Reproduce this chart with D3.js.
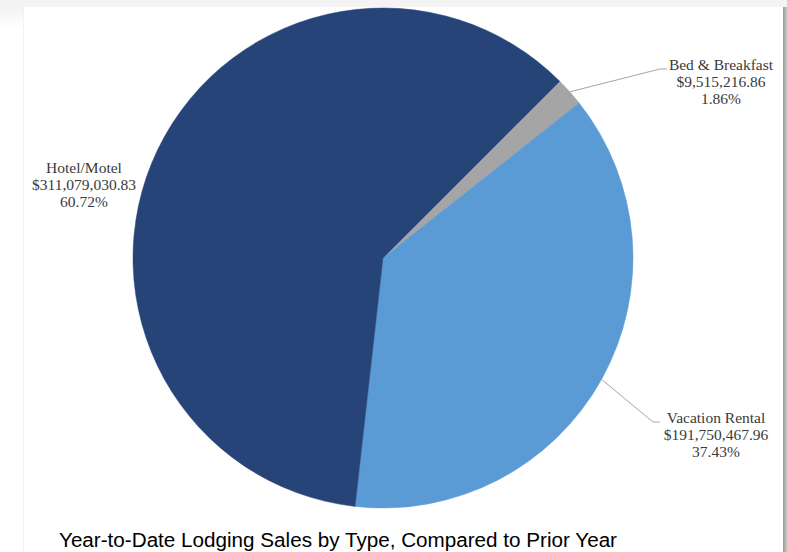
<!DOCTYPE html>
<html>
<head>
<meta charset="utf-8">
<script src="https://cdn.jsdelivr.net/npm/d3@7/dist/d3.min.js"></script>
<style>
  html, body { margin: 0; padding: 0; background: #ffffff; }
  svg { display: block; }
</style>
</head>
<body>
<svg id="chart" width="787" height="552"></svg>
<script>
// Lodging sales by type (year to date)
const categories = ["Bed & Breakfast", "Vacation Rental", "Hotel/Motel"];
const sales = [9515216.86, 191750467.96, 311079030.83];
const percents = ["1.86%", "37.43%", "60.72%"];
const colors = ["#A5A5A5", "#5B9BD5", "#264478"];
const title = "Year-to-Date Lodging Sales by Type, Compared to Prior Year";

const data = categories.map((c, i) => ({ name: c, value: sales[i], pct: percents[i], color: colors[i] }));

const W = 787, H = 552;
const cx = 383, cy = 258, R = 250;
const svg = d3.select("#chart");

// Page frame: top strip, left margin, right shadow
svg.append("rect").attr("x", 0).attr("y", 0).attr("width", W).attr("height", 7).attr("fill", "#f4f4f4");
const defs = svg.append("defs");
const lg = defs.append("linearGradient").attr("id", "leftFade").attr("x1", 0).attr("y1", 0).attr("x2", 0).attr("y2", 1);
lg.append("stop").attr("offset", 0).attr("stop-color", "#f3f3f3");
lg.append("stop").attr("offset", 1).attr("stop-color", "#ffffff");
svg.append("rect").attr("x", 0).attr("y", 7).attr("width", 23).attr("height", 22).attr("fill", "url(#leftFade)");
svg.append("line").attr("x1", 23.5).attr("x2", 23.5).attr("y1", 7).attr("y2", H).attr("stroke", "#f2f2f2");
const rg = defs.append("linearGradient").attr("id", "rightShadow").attr("x1", 0).attr("y1", 0).attr("x2", 1).attr("y2", 0);
rg.append("stop").attr("offset", 0).attr("stop-color", "#9a9a9a");
rg.append("stop").attr("offset", 1).attr("stop-color", "#c8c8c8");
svg.append("rect").attr("x", 783).attr("y", 7).attr("width", 4).attr("height", H - 7).attr("fill", "url(#rightShadow)");

// Pie starts at 45 degrees clockwise from the top
const start = Math.PI / 4;
const pie = d3.pie().value(d => d.value).sort(null)
  .startAngle(start).endAngle(start + 2 * Math.PI);
const arcs = pie(data);
const arc = d3.arc().innerRadius(0).outerRadius(R);

const g = svg.append("g").attr("transform", `translate(${cx},${cy})`);
g.selectAll("path.slice").data(arcs).join("path")
  .attr("class", "slice")
  .attr("d", arc)
  .attr("fill", d => d.data.color)
  .attr("stroke", d => d.data.color)
  .attr("stroke-width", 0.5);

// Data labels
const fmt = d3.format("$,.2f");
const labelFont = "'Liberation Serif', 'Times New Roman', serif";
const lineGap = 17;
const labelPos = {
  "Bed & Breakfast": { x: 721, y: 70, elbow: [660, 69], end: [667, 69] },
  "Vacation Rental": { x: 716, y: 423, elbow: [653, 422], end: [660, 422] },
  "Hotel/Motel": { x: 84, y: 173, elbow: null }
};

arcs.forEach(a => {
  const p = labelPos[a.data.name];
  if (p.elbow) {
    const mid = (a.startAngle + a.endAngle) / 2;
    const sx = cx + R * Math.sin(mid), sy = cy - R * Math.cos(mid);
    svg.append("polyline")
      .attr("points", [[sx, sy], p.elbow, p.end].map(q => q.join(",")).join(" "))
      .attr("fill", "none").attr("stroke", "#a6a6a6").attr("stroke-width", 1);
  }
  const t = svg.append("text")
    .attr("x", p.x).attr("y", p.y)
    .attr("text-anchor", "middle")
    .attr("font-family", labelFont)
    .attr("font-size", "15.5px")
    .attr("fill", "#3a3a3a");
  [a.data.name, fmt(a.data.value), a.data.pct].forEach((s, i) => {
    t.append("tspan").attr("x", p.x).attr("y", p.y + i * lineGap).text(s);
  });
});

// Title below the pie, slightly widened
svg.append("text")
  .attr("transform", "translate(59,547) scale(1.06,1)")
  .attr("font-family", "'Liberation Sans', Arial, sans-serif")
  .attr("font-size", "19.5px")
  .attr("fill", "#000000")
  .text(title);
</script>
</body>
</html>
